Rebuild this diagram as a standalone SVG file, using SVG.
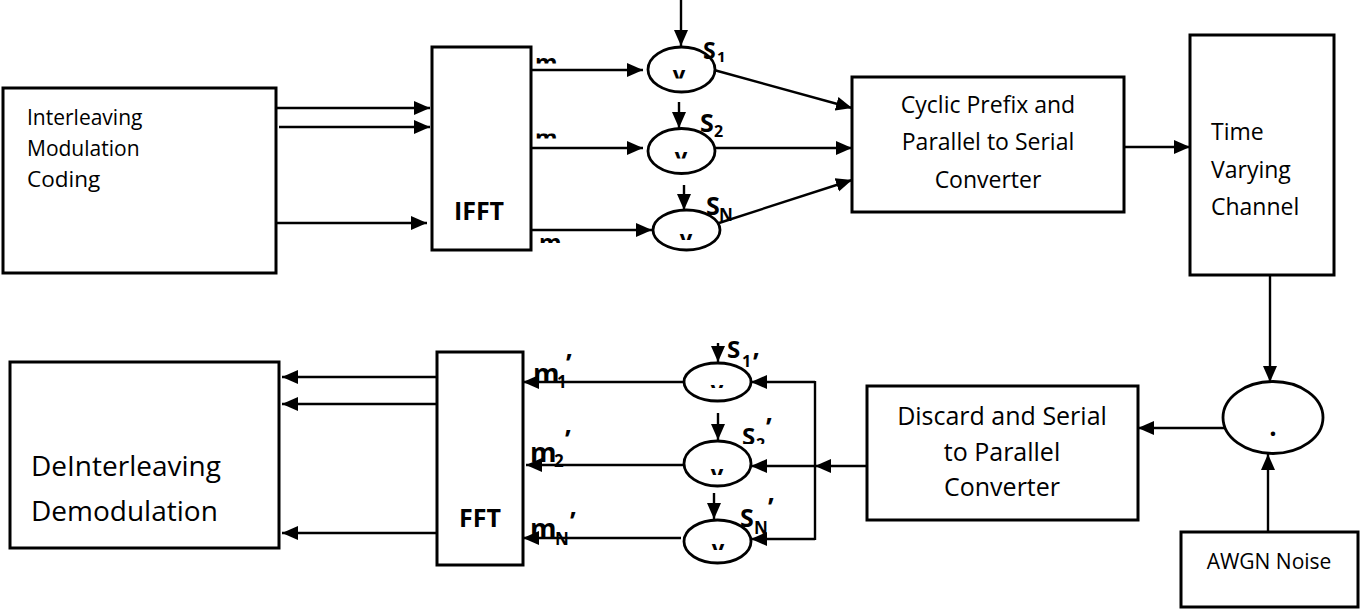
<svg xmlns="http://www.w3.org/2000/svg" width="1361" height="611" viewBox="0 0 1361 611">
<style>
.box{fill:#fff;stroke:#000;stroke-width:3}
.ell{fill:none;stroke:#000;stroke-width:2.8}
.ln{stroke:#000;stroke-width:2.4;fill:none}
.ar{marker-end:url(#ah)}
.t{font-family:"Open Sans","Liberation Sans",sans-serif;fill:#000}
.b{font-weight:bold}
.mid{text-anchor:middle}
</style>
<defs>
<marker id="ah" markerUnits="userSpaceOnUse" markerWidth="17" markerHeight="15" refX="16" refY="7" orient="auto"><path d="M0,0 L16,7 L0,14 z" fill="#000"/></marker>
<clipPath id="cm1"><rect x="530" y="58" width="40" height="5.5"/></clipPath>
<clipPath id="cm2"><rect x="530" y="133.5" width="40" height="5"/></clipPath>
<clipPath id="cm3"><rect x="530" y="238" width="40" height="5"/></clipPath>
<clipPath id="cv1"><rect x="660" y="70" width="40" height="8.5"/></clipPath>
<clipPath id="cv2"><rect x="660" y="152" width="40" height="6.5"/></clipPath>
<clipPath id="cv3"><rect x="665" y="234" width="40" height="6"/></clipPath>
<clipPath id="cv4"><rect x="700" y="384" width="40" height="4"/></clipPath>
<clipPath id="cv5"><rect x="700" y="467" width="40" height="8"/></clipPath>
<clipPath id="cv6"><rect x="700" y="544" width="40" height="6"/></clipPath>
<clipPath id="cs2"><rect x="735" y="410" width="50" height="34"/></clipPath>
</defs>

<g id="connectors">
<line class="ln ar" x1="276" y1="108" x2="430" y2="108"/>
<line class="ln ar" x1="279" y1="127" x2="430" y2="127"/>
<line class="ln ar" x1="276" y1="223" x2="427" y2="223"/>
<line class="ln ar" x1="531" y1="70" x2="643" y2="70"/>
<line class="ln ar" x1="531" y1="148" x2="643" y2="148"/>
<line class="ln ar" x1="531" y1="230" x2="652" y2="230"/>
<line class="ln ar" x1="681" y1="0" x2="681" y2="46"/>
<line class="ln ar" x1="679" y1="102" x2="679" y2="128"/>
<line class="ln ar" x1="684" y1="185" x2="684" y2="210"/>
<line class="ln ar" x1="714" y1="70" x2="852" y2="108"/>
<line class="ln ar" x1="715" y1="148" x2="852" y2="148"/>
<line class="ln ar" x1="719" y1="223" x2="852" y2="180"/>
<line class="ln ar" x1="1124" y1="147" x2="1190" y2="147"/>
<line class="ln ar" x1="1270" y1="275" x2="1270" y2="382"/>
<line class="ln ar" x1="1268" y1="532" x2="1268" y2="454"/>
<line class="ln ar" x1="1225" y1="428" x2="1138" y2="428"/>
<line class="ln ar" x1="866" y1="466" x2="815" y2="466"/>
<line class="ln" x1="815" y1="381" x2="815" y2="540"/>
<line class="ln ar" x1="815" y1="382" x2="751" y2="382"/>
<line class="ln ar" x1="815" y1="466" x2="751" y2="466"/>
<line class="ln ar" x1="815" y1="539" x2="751" y2="539"/>
<line class="ln ar" x1="684" y1="382" x2="523" y2="382"/>
<line class="ln ar" x1="684" y1="465" x2="526" y2="465"/>
<line class="ln ar" x1="681" y1="538" x2="523" y2="538"/>
<line class="ln ar" x1="718" y1="343" x2="718" y2="362"/>
<line class="ln ar" x1="718" y1="413" x2="718" y2="440"/>
<line class="ln ar" x1="714" y1="493" x2="714" y2="519"/>
<line class="ln ar" x1="437" y1="377" x2="282" y2="377"/>
<line class="ln ar" x1="437" y1="404" x2="282" y2="404"/>
<line class="ln ar" x1="437" y1="533" x2="282" y2="533"/>
</g>

<g id="tx-block">
<rect class="box" x="3" y="88" width="273" height="185"/>
<text class="t" x="27" y="125" font-size="21">Interleaving</text>
<text class="t" x="27" y="156" font-size="21">Modulation</text>
<text class="t" x="27" y="187" font-size="22.5">Coding</text>
</g>

<g id="ifft">
<rect class="box" x="432" y="47" width="99" height="203"/>
<text class="t b mid" x="479" y="220" font-size="25">IFFT</text>
<text class="t b" x="535" y="70.5" font-size="23" clip-path="url(#cm1)">m</text>
<text class="t b" x="535" y="146" font-size="23" clip-path="url(#cm2)">m</text>
<text class="t b" x="539" y="250.5" font-size="23" clip-path="url(#cm3)">m</text>
</g>

<g id="mult-s1">
<ellipse class="ell" cx="681.5" cy="69.5" rx="33.5" ry="22.5"/>
<text class="t b mid" x="679" y="82" font-size="22" clip-path="url(#cv1)">v</text>
<text class="t b" x="703" y="59" font-size="23">S</text>
<text class="t b" x="717" y="62" font-size="15">1</text>
</g>
<g id="mult-s2">
<ellipse class="ell" cx="681.5" cy="151" rx="33.5" ry="22.5"/>
<text class="t b mid" x="681" y="164" font-size="22" clip-path="url(#cv2)">v</text>
<text class="t b" x="700" y="132" font-size="25">S</text>
<text class="t b" x="714" y="137" font-size="16">2</text>
</g>
<g id="mult-sn">
<ellipse class="ell" cx="686.5" cy="230" rx="33.5" ry="20"/>
<text class="t b mid" x="686" y="246" font-size="22" clip-path="url(#cv3)">v</text>
<text class="t b" x="706" y="215" font-size="25">S</text>
<text class="t b" x="719" y="221" font-size="17">N</text>
</g>

<g id="cp-ps">
<rect class="box" x="852" y="77" width="272" height="135"/>
<text class="t mid" x="988" y="113" font-size="23">Cyclic Prefix and</text>
<text class="t mid" x="988" y="150" font-size="23">Parallel to Serial</text>
<text class="t mid" x="988" y="188" font-size="23">Converter</text>
</g>

<g id="channel">
<rect class="box" x="1190" y="35" width="144" height="240"/>
<text class="t" x="1211" y="140" font-size="23">Time</text>
<text class="t" x="1211" y="178" font-size="23">Varying</text>
<text class="t" x="1211" y="215" font-size="23">Channel</text>
</g>

<g id="adder">
<ellipse class="ell" cx="1273" cy="417.5" rx="50" ry="36"/>
<text class="t b mid" x="1273" y="436" font-size="26">.</text>
</g>

<g id="awgn">
<rect class="box" x="1181" y="532" width="177" height="75"/>
<text class="t mid" x="1269" y="569" font-size="21">AWGN Noise</text>
</g>

<g id="discard-sp">
<rect class="box" x="867" y="386" width="271" height="134"/>
<text class="t mid" x="1002" y="425" font-size="25">Discard and Serial</text>
<text class="t mid" x="1002" y="461" font-size="25">to Parallel</text>
<text class="t mid" x="1002" y="496" font-size="25">Converter</text>
</g>

<g id="mult-s1p">
<ellipse class="ell" cx="717.5" cy="382" rx="33.5" ry="19"/>
<text class="t b mid" x="717" y="397" font-size="22" clip-path="url(#cv4)">v</text>
<text class="t b" x="727" y="358" font-size="24">S</text>
<text class="t b" x="742" y="367" font-size="16">1</text>
<text class="t b" x="753" y="372" font-size="26">’</text>
</g>
<g id="mult-s2p">
<ellipse class="ell" cx="717.5" cy="463.5" rx="33.5" ry="22.5"/>
<text class="t b mid" x="717" y="481" font-size="22" clip-path="url(#cv5)">v</text>
<g clip-path="url(#cs2)">
<text class="t b" x="742" y="445" font-size="24">S</text>
<text class="t b" x="756" y="450" font-size="16">2</text>
</g>
<text class="t b" x="766" y="437" font-size="26">’</text>
</g>
<g id="mult-snp">
<ellipse class="ell" cx="717.5" cy="541.5" rx="33.5" ry="21.5"/>
<text class="t b mid" x="718" y="556" font-size="22" clip-path="url(#cv6)">v</text>
<text class="t b" x="740" y="527" font-size="25">S</text>
<text class="t b" x="754" y="534" font-size="17">N</text>
<text class="t b" x="768" y="517" font-size="26">’</text>
</g>

<g id="fft">
<rect class="box" x="437" y="352" width="86" height="213"/>
<text class="t b mid" x="480" y="527" font-size="25">FFT</text>
<text class="t b" x="533" y="383" font-size="27">m</text>
<text class="t b" x="557" y="388" font-size="17">1</text>
<text class="t b" x="566" y="373" font-size="26">’</text>
<text class="t b" x="530" y="462" font-size="27">m</text>
<text class="t b" x="554" y="467" font-size="17">2</text>
<text class="t b" x="565" y="449" font-size="26">’</text>
<text class="t b" x="530" y="538" font-size="27">m</text>
<text class="t b" x="555" y="545" font-size="17">N</text>
<text class="t b" x="570" y="531" font-size="26">’</text>
</g>

<g id="rx-block">
<rect class="box" x="10" y="362" width="269" height="186"/>
<text class="t" x="31" y="476" font-size="28">DeInterleaving</text>
<text class="t" x="31" y="521" font-size="28">Demodulation</text>
</g>
</svg>
